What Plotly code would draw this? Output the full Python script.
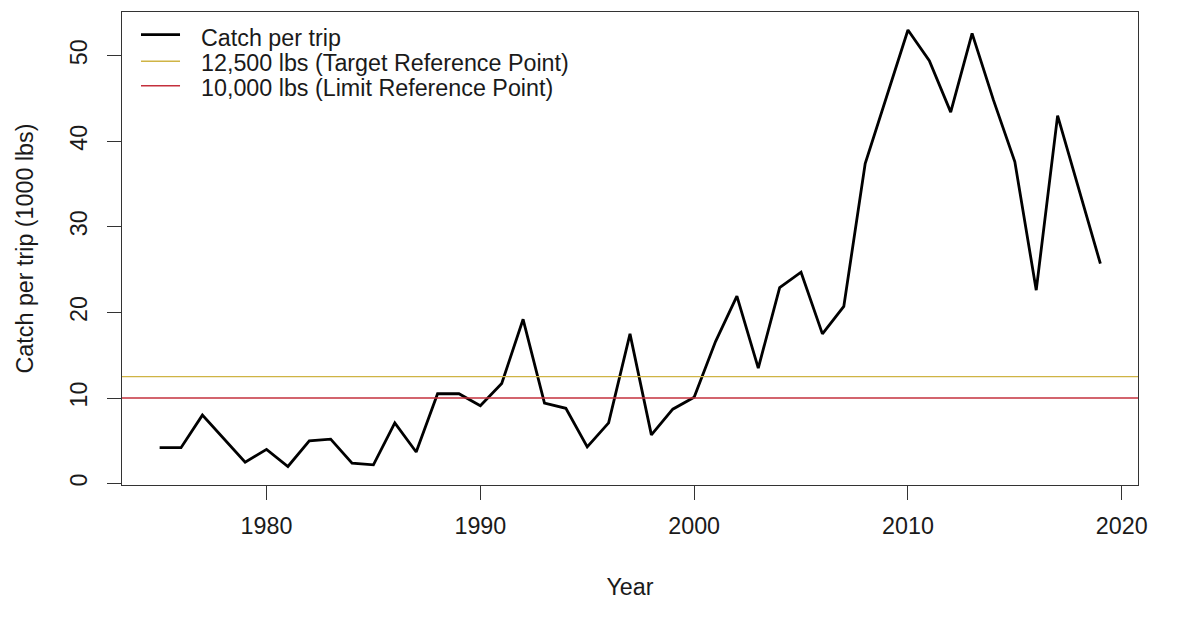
import plotly.graph_objects as go

years = list(range(1975, 2020))
catch_per_trip = [4.2, 4.2, 8.0, 5.2, 2.5, 4.0, 2.0, 5.0, 5.2, 2.4,
                  2.2, 7.1, 3.7, 10.5, 10.5, 9.1, 11.7, 19.2, 9.4, 8.8,
                  4.3, 7.1, 17.5, 5.7, 8.7, 10.1, 16.6, 21.9, 13.5, 22.9,
                  24.7, 17.5, 20.7, 37.4, 45.2, 53.0, 49.4, 43.4, 52.6, 44.8,
                  37.6, 22.6, 43.0, 34.3, 25.7]
target_ref = 12.5
limit_ref = 10.0
legend_labels = ["Catch per trip", "12,500 lbs (Target Reference Point)", "10,000 lbs (Limit Reference Point)"]
x_ticks = [1980, 1990, 2000, 2010, 2020]
y_ticks = [0, 10, 20, 30, 40, 50]

FONT = "Liberation Sans, Arial, sans-serif"
TXT = "#1a1a1a"
BLACK = "#000000"
GOLD = "#CFB445"
RED = "#C4303C"
FS = 23.3

fig = go.Figure()
fig.add_trace(go.Scatter(x=years, y=catch_per_trip, mode="lines",
                         line=dict(color=BLACK, width=2.8), name=legend_labels[0],
                         showlegend=False))
fig.add_hline(y=target_ref, line=dict(color=GOLD, width=1.4))
fig.add_hline(y=limit_ref, line=dict(color=RED, width=1.4))

# manual legend (R-style, tight rows)
rows_y = [0.944, 0.892, 0.840]
line_dy = [0.008, 0.004, 0.004]
colors = [BLACK, GOLD, RED]
widths = [2.8, 1.4, 1.4]
for lab, yy, dy, c, w in zip(legend_labels, rows_y, line_dy, colors, widths):
    fig.add_shape(type="line", xref="paper", yref="paper", x0=0.0187, x1=0.0571,
                  y0=yy + dy, y1=yy + dy, line=dict(color=c, width=w))
    fig.add_annotation(xref="paper", yref="paper", x=0.0758, y=yy, text=lab,
                       showarrow=False, xanchor="left", yanchor="middle",
                       font=dict(family=FONT, size=FS, color=TXT))

fig.update_xaxes(range=[1973.24, 2020.76], tickvals=x_ticks,
                 ticks="outside", ticklen=14, tickwidth=1.2, tickcolor="#333",
                 showline=True, linecolor="#333", linewidth=1.4, mirror=True,
                 showgrid=False, zeroline=False,
                 tickfont=dict(family=FONT, size=FS, color=TXT),
                 ticklabelstandoff=6,
                 title=dict(text="Year", font=dict(family=FONT, size=FS, color=TXT), standoff=40))
fig.update_yaxes(range=[-0.16, 55.1], tickvals=y_ticks, tickangle=-90,
                 ticks="outside", ticklen=14, tickwidth=1.2, tickcolor="#333",
                 showline=True, linecolor="#333", linewidth=1.4, mirror=True,
                 showgrid=False, zeroline=False,
                 tickfont=dict(family=FONT, size=FS, color=TXT),
                 ticklabelstandoff=10,
                 title=dict(text="Catch per trip (1000 lbs)", font=dict(family=FONT, size=FS, color=TXT), standoff=26))

# page body has an 8px default margin, so the figure is shifted by 8px
fig.update_layout(width=1197, height=630,
                  margin=dict(l=114, r=67, t=4, b=153, autoexpand=False),
                  paper_bgcolor="white", plot_bgcolor="white",
                  showlegend=False)
fig.write_html("out.html")
